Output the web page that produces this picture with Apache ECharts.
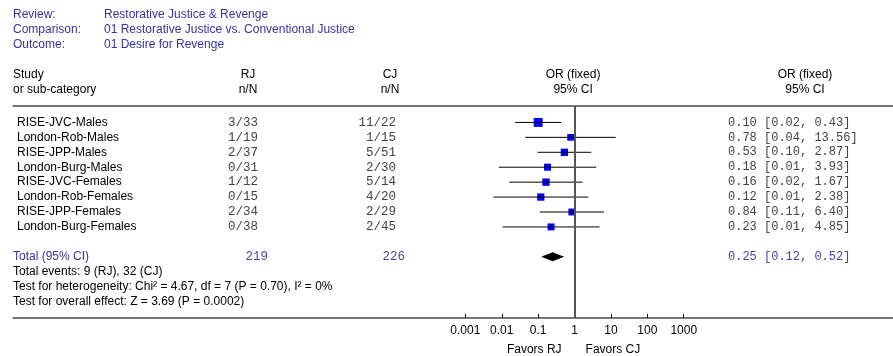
<!DOCTYPE html>
<html>
<head>
<meta charset="utf-8">
<script src="https://cdn.jsdelivr.net/npm/echarts@6/dist/echarts.min.js"></script>
<style>
html,body{margin:0;padding:0;background:#fff;}
#chart{width:893px;height:356px;}
</style>
</head>
<body>
<div id="chart"></div>
<script>
// ---------------- data ----------------
const headerLabels = ['Review:', 'Comparison:', 'Outcome:'];
const headerValues = ['Restorative Justice & Revenge', '01 Restorative Justice vs. Conventional Justice', '01 Desire for Revenge'];
const studies = ['RISE-JVC-Males', 'London-Rob-Males', 'RISE-JPP-Males', 'London-Burg-Males',
                 'RISE-JVC-Females', 'London-Rob-Females', 'RISE-JPP-Females', 'London-Burg-Females'];
const rjEvents = ['3/33', '1/19', '2/37', '0/31', '1/12', '0/15', '2/34', '0/38'];
const cjEvents = ['11/22', '1/15', '5/51', '2/30', '5/14', '4/20', '2/29', '2/45'];
const orEst = [0.100, 0.778, 0.526, 0.181, 0.164, 0.118, 0.844, 0.226];
const orLo  = [0.0234, 0.0446, 0.0963, 0.0083, 0.0161, 0.0059, 0.1113, 0.0105];
const orHi  = [0.427, 13.56, 2.871, 3.932, 1.666, 2.382, 6.398, 4.853];
const weights = [37.5, 3.3, 12.4, 7.8, 13.3, 12.1, 6.4, 7.2];
const totalLabel = 'Total (95% CI)';
const totalN = ['219', '226'];
const totalOR = [0.2505, 0.121, 0.519]; // estimate, lower, upper
const footerLines = ['Total events: 9 (RJ), 32 (CJ)',
                     'Test for heterogeneity: Chi\u00b2 = 4.67, df = 7 (P = 0.70), I\u00b2 = 0%',
                     'Test for overall effect: Z = 3.69 (P = 0.0002)'];
const tickValues = [0.001, 0.01, 0.1, 1, 10, 100, 1000];
const tickLabels = ['0.001', '0.01', '0.1', '1', '10', '100', '1000'];
const favorLabels = ['Favors RJ', 'Favors CJ'];

// ---------------- styles ----------------
const SANS = '"Liberation Sans", Arial, sans-serif';
const MONO = '"Liberation Mono", "Courier New", monospace';
const BLUE = '#3434a0';
const MONO_BLUE = '#4545a8';
const MONO_GREY = '#444';
const LINE = '#4a4a4a';
const TOTAL_ROW = 9;

const fmt = v => v.toFixed(2);
const ciText = (e, l, h) => fmt(e) + ' [' + fmt(l) + ', ' + fmt(h) + ']';

const chart = echarts.init(document.getElementById('chart'), null, {renderer: 'canvas'});

function txt(x, y, text, font, fill, align) {
  return {type: 'text', x: x, y: y, silent: true,
          style: {text: text, font: font, fill: fill, align: align || 'left', verticalAlign: 'middle'}};
}

const logTicks = tickValues.map(v => Math.log10(v));

const option = {
  animation: false,
  backgroundColor: '#fff',
  grid: {left: 13, right: 0, top: 106, bottom: 38, containLabel: false},
  xAxis: [{
    type: 'value', min: -15.43, max: 8.75, position: 'bottom',
    axisLine: {show: true, onZero: false, lineStyle: {color: LINE, width: 1.5}},
    axisTick: {show: true, inside: true, length: 4, customValues: logTicks, lineStyle: {color: '#000', width: 1}},
    axisLabel: {show: true, customValues: logTicks, margin: 7, color: '#000', fontFamily: SANS, fontSize: 12,
      formatter: v => { const i = logTicks.findIndex(t => Math.abs(t - v) < 1e-6); return i >= 0 ? tickLabels[i] : ''; }},
    splitLine: {show: false}
  }, {
    type: 'value', min: -15.43, max: 8.75, position: 'top',
    axisLine: {show: true, onZero: false, lineStyle: {color: LINE, width: 1.5}},
    axisTick: {show: false}, axisLabel: {show: false}, splitLine: {show: false}
  }],
  yAxis: {type: 'value', inverse: true, min: -1.1, max: 13.1, show: false},
  series: [
    {
      // study rows: CI line + weighted square
      type: 'custom', name: 'studies', clip: false,
      data: studies.map((s, i) => [i, Math.log10(orEst[i]), Math.log10(orLo[i]), Math.log10(orHi[i]), weights[i]]),
      renderItem: (params, api) => {
        const row = api.value(0);
        const c = api.coord([api.value(1), row]);
        const lo = api.coord([api.value(2), row]);
        const hi = api.coord([api.value(3), row]);
        const s = 6.5 + api.value(4) * 0.065;
        return {type: 'group', children: [
          {type: 'rect', shape: {x: c[0] - s / 2, y: c[1] - s / 2, width: s, height: s}, style: {fill: '#0000ff'}},
          {type: 'line', shape: {x1: lo[0], y1: lo[1], x2: hi[0], y2: hi[1]}, style: {stroke: '#000', lineWidth: 1}}
        ]};
      },
      markLine: {
        silent: true, symbol: ['none', 'none'], label: {show: false},
        lineStyle: {color: '#555', width: 2, type: 'solid'},
        data: [{xAxis: 0}]
      }
    },
    {
      // pooled diamond
      type: 'custom', name: 'total', clip: false,
      data: [[TOTAL_ROW, Math.log10(totalOR[0]), Math.log10(totalOR[1]), Math.log10(totalOR[2])]],
      renderItem: (params, api) => {
        const row = api.value(0);
        const c = api.coord([api.value(1), row]);
        const lo = api.coord([api.value(2), row]);
        const hi = api.coord([api.value(3), row]);
        const top = api.coord([api.value(1), row - 0.3]);
        const bot = api.coord([api.value(1), row + 0.3]);
        return {type: 'polygon', shape: {points: [[lo[0], c[1]], [c[0], top[1]], [hi[0], c[1]], [c[0], bot[1]]]},
                style: {fill: '#000'}};
      }
    },
    {
      // table text for each study row
      type: 'custom', name: 'table', clip: false, silent: true,
      data: studies.map((s, i) => [0, i]),
      renderItem: (params, api) => {
        const i = params.dataIndex;
        const y = api.coord([0, api.value(1)])[1];
        return {type: 'group', children: [
          txt(17, y, studies[i], '12px ' + SANS, '#000'),
          txt(258, y, rjEvents[i], '12.5px ' + MONO, MONO_GREY, 'right'),
          txt(396, y, cjEvents[i], '12.5px ' + MONO, MONO_GREY, 'right'),
          txt(728, y, ciText(orEst[i], orLo[i], orHi[i]), '12px ' + MONO, MONO_GREY)
        ]};
      }
    },
    {
      // total & footer text
      type: 'custom', name: 'totaltext', clip: false, silent: true,
      data: [[0, TOTAL_ROW]],
      renderItem: (params, api) => {
        const y = api.coord([0, TOTAL_ROW])[1];
        const children = [
          txt(13, y, totalLabel, '12px ' + SANS, BLUE),
          txt(268, y, totalN[0], '12.5px ' + MONO, MONO_BLUE, 'right'),
          txt(405, y, totalN[1], '12.5px ' + MONO, MONO_BLUE, 'right'),
          txt(728, y, ciText(totalOR[0], totalOR[1], totalOR[2]), '12px ' + MONO, MONO_BLUE)
        ];
        footerLines.forEach((t, k) => {
          const yy = api.coord([0, TOTAL_ROW + 1 + k])[1];
          children.push(txt(13, yy, t, '12px ' + SANS, '#000'));
        });
        return {type: 'group', children: children};
      }
    }
  ]
};
chart.setOption(option);

// header & column titles, favour labels
const x1 = chart.convertToPixel({xAxisIndex: 0}, 0);
const g = [];
headerLabels.forEach((t, k) => {
  g.push(txt(13, 15 + 15 * k, t, '12px ' + SANS, BLUE));
  g.push(txt(104, 15 + 15 * k, headerValues[k], '12px ' + SANS, BLUE));
});
g.push(txt(13, 75, 'Study', '12px ' + SANS, '#000'));
g.push(txt(13, 90, 'or sub-category', '12px ' + SANS, '#000'));
g.push(txt(248, 75, 'RJ', '12px ' + SANS, '#000', 'center'));
g.push(txt(248, 90, 'n/N', '12px ' + SANS, '#000', 'center'));
g.push(txt(390, 75, 'CJ', '12px ' + SANS, '#000', 'center'));
g.push(txt(390, 90, 'n/N', '12px ' + SANS, '#000', 'center'));
g.push(txt(x1 - 1.5, 75, 'OR (fixed)', '12px ' + SANS, '#000', 'center'));
g.push(txt(x1 - 1.5, 90, '95% CI', '12px ' + SANS, '#000', 'center'));
g.push(txt(805, 75, 'OR (fixed)', '12px ' + SANS, '#000', 'center'));
g.push(txt(805, 90, '95% CI', '12px ' + SANS, '#000', 'center'));
g.push(txt(x1 - 13, 350, favorLabels[0], '12px ' + SANS, '#000', 'right'));
g.push(txt(x1 + 11, 350, favorLabels[1], '12px ' + SANS, '#000', 'left'));
chart.setOption({graphic: g.map(e => Object.assign(e, {z: 100}))});
</script>
</body>
</html>
